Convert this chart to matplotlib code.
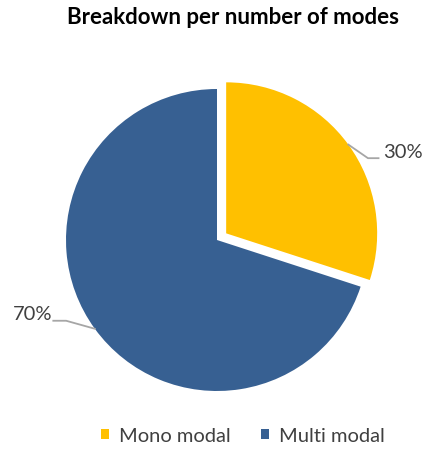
import numpy as np
import matplotlib.pyplot as plt

labels = ["Mono modal", "Multi modal"]
shares = [30, 70]
colors = ["#FFC000", "#376092"]
explode = [0.075, 0]

FONT = "Lato"

fig = plt.figure(figsize=(4.24, 4.5), dpi=100)
R = 151.0  # pie radius in px
lim = 1.3
side = 2 * lim * R
cx, cy = 217, 450 - 240
ax = fig.add_axes([(cx - side / 2) / 424, (cy - side / 2) / 450, side / 424, side / 450])

wedges, _ = ax.pie(shares, colors=colors, explode=explode, startangle=90,
                   counterclock=False, radius=1,
                   wedgeprops=dict(linewidth=0))
ax.set_xlim(-lim, lim)
ax.set_ylim(-lim, lim)
ax.set_aspect("equal")
ax.axis("off")

# labels with leader lines, anchored at mid-angle of each wedge
lab_txt = ["%d%%" % s for s in shares]
for w, t, ex in zip(wedges, lab_txt, explode):
    mid = np.deg2rad((w.theta1 + w.theta2) / 2)
    ox, oy = ex * np.cos(mid), ex * np.sin(mid)
    x0, y0 = ox + np.cos(mid), oy + np.sin(mid)
    if np.cos(mid) > 0:
        x1, y1 = x0 + 0.13, y0 - 0.09
        x2 = x1 + 0.07
        ax.plot([x0, x1, x2], [y0, y1, y1], color="#A6A6A6", lw=1.3, clip_on=False)
        ax.text(x2 + 0.03, y1 + 0.04, t, ha="left", va="center", fontsize=14.5,
                color="#404040", family=FONT)
    else:
        x1, y1 = x0 - 0.19, y0 + 0.053
        x2 = x1 - 0.085
        ax.plot([x0, x1, x2], [y0, y1, y1], color="#A6A6A6", lw=1.3, clip_on=False)
        ax.text(x2 - 0.005, y1 + 0.04, t, ha="right", va="center", fontsize=14.5,
                color="#404040", family=FONT)

fig.text(233 / 424, 1 - 18 / 450, "Breakdown per number of modes", ha="center",
         va="center", fontsize=16, fontweight="bold", family=FONT)

fig.legend(wedges, labels, loc="center", bbox_to_anchor=(243 / 424, 1 - 436 / 450),
           ncol=2, frameon=False, handlelength=0.4, handleheight=0.4,
           handletextpad=0.5, columnspacing=1.5, prop={"family": FONT, "size": 14.5})
for txt in fig.legends[0].get_texts():
    txt.set_color("#404040")

fig.savefig("out.png", dpi=100)
